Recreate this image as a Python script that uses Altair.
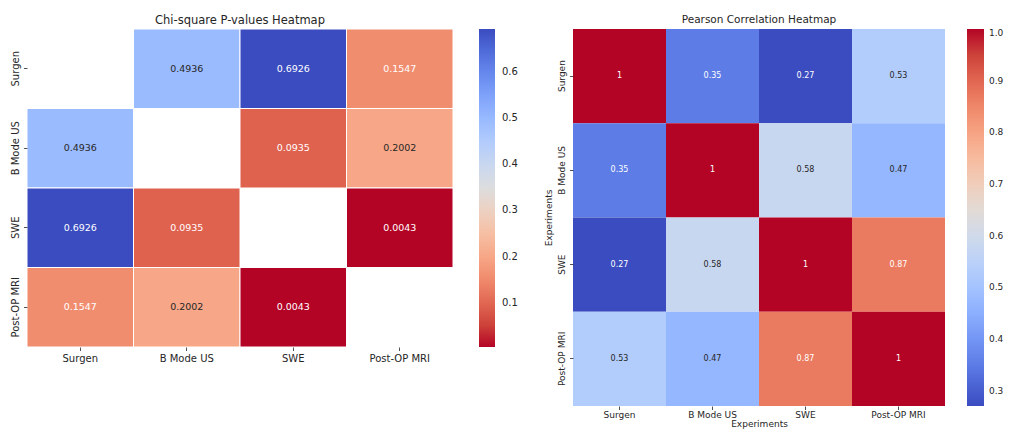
import altair as alt
import numpy as np
import pandas as pd

categories = ["Surgen", "B Mode US", "SWE", "Post-OP MRI"]

chi_p = [
    [None, 0.4936, 0.6926, 0.1547],
    [0.4936, None, 0.0935, 0.2002],
    [0.6926, 0.0935, None, 0.0043],
    [0.1547, 0.2002, 0.0043, None],
]
pearson = [
    [1.00, 0.35, 0.27, 0.53],
    [0.35, 1.00, 0.58, 0.47],
    [0.27, 0.58, 1.00, 0.87],
    [0.53, 0.47, 0.87, 1.00],
]
chi_ticks = [0.1, 0.2, 0.3, 0.4, 0.5, 0.6]
pearson_ticks = [0.3, 0.4, 0.5, 0.6, 0.7, 0.8, 0.9, 1.0]
chi_range = [0.0043, 0.6926]
pearson_range = [0.27, 1.0]

# matplotlib "coolwarm" colormap stops
coolwarm = [
    (59, 76, 192), (68, 90, 204), (77, 104, 215), (87, 117, 225), (98, 130, 234),
    (108, 142, 241), (119, 154, 247), (130, 165, 251), (141, 176, 254), (152, 185, 255),
    (163, 194, 255), (174, 201, 253), (184, 208, 249), (194, 213, 244), (204, 217, 238),
    (213, 219, 230), (221, 221, 221), (229, 216, 209), (236, 211, 197), (241, 204, 184),
    (245, 196, 172), (247, 187, 159), (247, 177, 147), (247, 166, 134), (244, 154, 123),
    (241, 141, 111), (236, 127, 99), (229, 112, 88), (222, 96, 77), (213, 80, 66),
    (203, 62, 56), (192, 40, 47), (180, 4, 38),
]
coolwarm_hex = ["#%02x%02x%02x" % c for c in coolwarm]

FONT = "DejaVu Sans"
TXT = "#262626"


def long_table(matrix):
    rows = []
    for i, r in enumerate(categories):
        for j, c in enumerate(categories):
            v = matrix[i][j]
            if v is not None:
                rows.append({"row": r, "col": c, "value": v})
    return pd.DataFrame(rows)


chi_df = long_table(chi_p)
pear_df = long_table(pearson)

chi_domain = list(np.linspace(chi_range[0], chi_range[1], len(coolwarm_hex)))
pear_domain = list(np.linspace(pearson_range[0], pearson_range[1], len(coolwarm_hex)))

# ---------- Left: chi-square p-values ----------
lx = alt.X("col:N", sort=categories, title=None,
           axis=alt.Axis(labelAngle=0, labelFontSize=10, labelFont=FONT, labelColor=TXT,
                         domain=False, tickColor=TXT, tickSize=3.5, tickWidth=0.8,
                         labelPadding=3))
ly = alt.Y("row:N", sort=categories, title=None,
           axis=alt.Axis(labelAngle=270, labelAlign="center", labelBaseline="bottom",
                         labelFontSize=10, labelFont=FONT, labelColor=TXT,
                         domain=False, tickColor=TXT, tickSize=3.5, tickWidth=0.8,
                         labelPadding=3))

left_rect = alt.Chart(chi_df).mark_rect(stroke="white", strokeWidth=1).encode(
    x=lx, y=ly,
    color=alt.Color("value:Q", title=None,
                    scale=alt.Scale(domain=chi_domain, range=coolwarm_hex[::-1]),
                    legend=alt.Legend(values=chi_ticks, format=".1f", gradientLength=318,
                                      gradientThickness=16, offset=26, labelFontSize=10,
                                      labelFont=FONT, labelColor=TXT, labelOffset=7,
                                      gradientStrokeWidth=0)),
)
left_text = alt.Chart(chi_df).mark_text(fontSize=9.5, font=FONT).encode(
    x=alt.X("col:N", sort=categories),
    y=alt.Y("row:N", sort=categories),
    text=alt.Text("value:Q", format=".4f"),
    color=alt.condition("datum.value < 0.18 || datum.value > 0.6",
                        alt.value("white"), alt.value(TXT)),
)
left = alt.layer(left_rect, left_text).properties(
    width=426, height=318,
    title=alt.TitleParams("Chi-square P-values Heatmap", fontSize=11.5, font=FONT,
                          fontWeight="normal", color=TXT, offset=2),
)

# ---------- Right: Pearson correlation ----------
rx = alt.X("col:N", sort=categories, title="Experiments",
           axis=alt.Axis(labelAngle=0, labelFontSize=9, labelFont=FONT, labelColor=TXT,
                         domain=False, tickColor=TXT, tickSize=3.5, tickWidth=0.8,
                         labelPadding=1, titleFont=FONT, titleFontSize=9,
                         titleFontWeight="normal", titleColor=TXT, titlePadding=0))
ry = alt.Y("row:N", sort=categories, title="Experiments",
           axis=alt.Axis(labelAngle=270, labelAlign="center", labelBaseline="bottom",
                         labelFontSize=9, labelFont=FONT, labelColor=TXT,
                         domain=False, tickColor=TXT, tickSize=3.5, tickWidth=0.8,
                         labelPadding=3, titleFont=FONT, titleFontSize=9,
                         titleFontWeight="normal", titleColor=TXT, titlePadding=4))

right_rect = alt.Chart(pear_df).mark_rect().encode(
    x=rx, y=ry,
    color=alt.Color("value:Q", title=None,
                    scale=alt.Scale(domain=pear_domain, range=coolwarm_hex),
                    legend=alt.Legend(values=pearson_ticks, format=".1f", gradientLength=377,
                                      gradientThickness=17, offset=22, labelFontSize=9,
                                      labelFont=FONT, labelColor=TXT, labelOffset=5,
                                      gradientStrokeWidth=0)),
)
right_text = alt.Chart(pear_df).mark_text(fontSize=8, font=FONT).encode(
    x=alt.X("col:N", sort=categories),
    y=alt.Y("row:N", sort=categories),
    text=alt.Text("value:Q", format=".2~f"),
    color=alt.condition("datum.value < 0.4 || datum.value > 0.8",
                        alt.value("white"), alt.value(TXT)),
)
right = alt.layer(right_rect, right_text).properties(
    width=372, height=377,
    title=alt.TitleParams("Pearson Correlation Heatmap", fontSize=10.5, font=FONT,
                          fontWeight="normal", color=TXT, offset=4),
)

chart = alt.hconcat(left, right, spacing=26).resolve_scale(
    color="independent", x="independent", y="independent"
).properties(
    padding={"left": 2, "top": 6, "right": 0, "bottom": 0}
).configure_view(stroke=None).configure_scale(bandPaddingInner=0, bandPaddingOuter=0)

chart.save("out.html", embed_options={"renderer": "svg", "actions": False})
